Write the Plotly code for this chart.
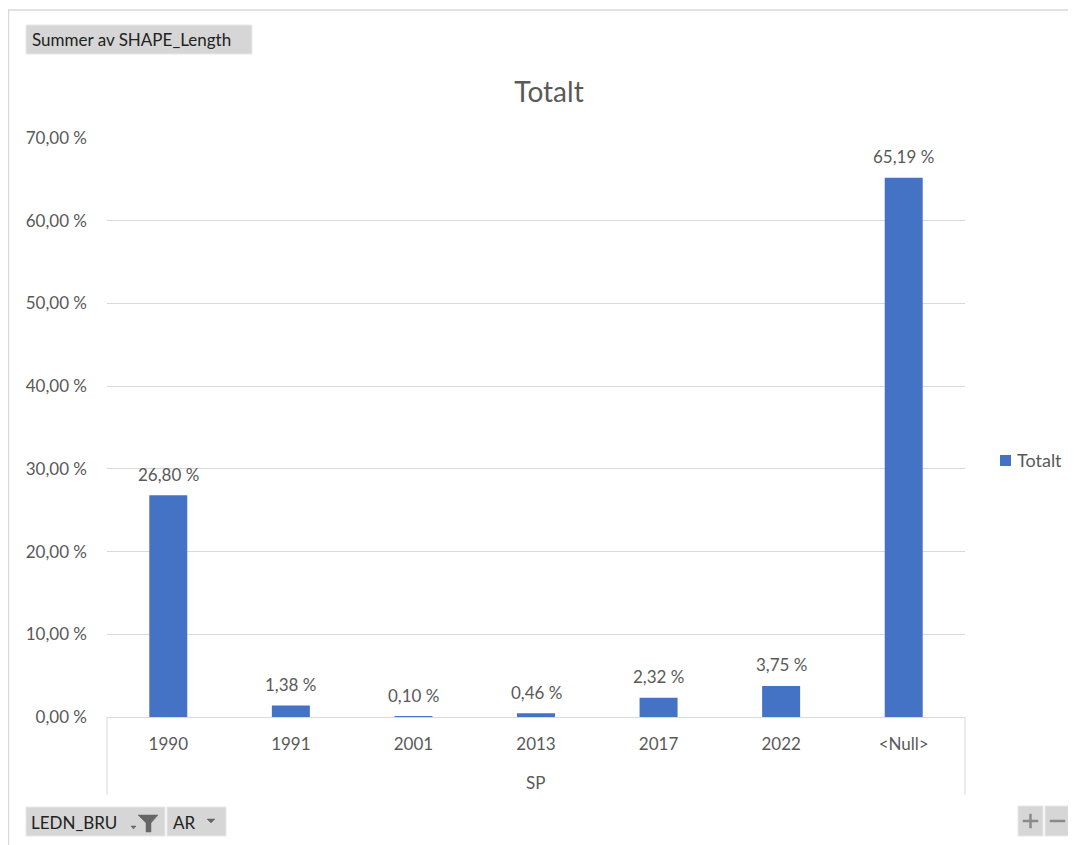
import plotly.graph_objects as go

categories = ["1990", "1991", "2001", "2013", "2017", "2022", "<Null>"]
values = [26.80, 1.38, 0.10, 0.46, 2.32, 3.75, 65.19]
y_ticks = [0, 10, 20, 30, 40, 50, 60, 70]
series_name = "Totalt"
chart_title = "Totalt"
axis_title = "SP"

# page is rendered with an 8px body margin
OFF = 8
W, H = 1076 - OFF, 845 - OFF
L, R, T, B = 107, 965, 138, 717  # page coordinates of plot area
FONT = "Lato, Open Sans, sans-serif"
GREY = "#595959"
BAR = "#4472C4"


def fmt(v):
    return f"{v:.2f}".replace(".", ",") + " %"


def px(x):
    return (x - L) / (R - L)


def py(y):
    return (B - y) / (B - T)


fig = go.Figure()
fig.add_trace(go.Bar(
    x=categories, y=values, name=series_name,
    marker=dict(color=BAR, line=dict(width=0)),
    cliponaxis=False, showlegend=False,
))

shapes = []
# outer frame
shapes.append(dict(type="line", xref="paper", yref="paper", x0=px(8), x1=px(1076), y0=py(10), y1=py(10),
                   line=dict(color="#d9d9d9", width=1.5)))
shapes.append(dict(type="line", xref="paper", yref="paper", x0=px(8.5), x1=px(8.5), y0=py(10), y1=py(845),
                   line=dict(color="#d9d9d9", width=1.5)))
# category axis boundary lines
for xx in (L, R):
    shapes.append(dict(type="line", xref="paper", yref="paper", x0=px(xx), x1=px(xx), y0=py(717), y1=py(795),
                       line=dict(color="#d9d9d9", width=1)))


def button(x0, x1, y0, y1):
    shapes.append(dict(type="rect", xref="paper", yref="paper", x0=px(x0), x1=px(x1), y0=py(y1), y1=py(y0),
                       fillcolor="#d6d6d6", line=dict(color="#e8e8e8", width=1), layer="above"))


button(26, 252, 25, 54)
button(26, 165, 807, 836)
button(167, 226, 807, 836)
button(1018, 1043, 806, 836)
button(1045, 1070, 806, 836)


def path(points, color="#666666"):
    d = "M " + " L ".join(f"{px(x)},{py(y)}" for x, y in points) + " Z"
    shapes.append(dict(type="path", xref="paper", yref="paper", path=d, fillcolor=color,
                       line=dict(color=color, width=0.5), layer="above"))


# filter funnel
path([(138, 815), (158, 815), (151, 823), (151, 832), (146, 832), (146, 823)])
# small dropdown arrow next to funnel
path([(131, 826), (136, 826), (133.5, 829)])
# AR dropdown arrow
path([(207, 819), (215, 819), (211, 823)])
# plus sign
path([(1023, 820), (1038, 820), (1038, 822), (1023, 822)], "#8a8a8a")
path([(1029.5, 814), (1031.5, 814), (1031.5, 828), (1029.5, 828)], "#8a8a8a")
# minus sign
path([(1050, 820), (1065, 820), (1065, 822), (1050, 822)], "#8a8a8a")
# legend swatch
shapes.append(dict(type="rect", xref="paper", yref="paper", x0=px(1000), x1=px(1011), y0=py(466), y1=py(455),
                   fillcolor=BAR, line=dict(width=0)))

annotations = [
    dict(text="Summer av SHAPE_Length", xref="paper", yref="paper", x=px(30), y=py(40),
         xanchor="left", yanchor="middle", showarrow=False, font=dict(family=FONT, size=17, color="#222222")),
    dict(text="LEDN_BRU", xref="paper", yref="paper", x=px(29), y=py(822),
         xanchor="left", yanchor="middle", showarrow=False, font=dict(family=FONT, size=17, color="#222222")),
    dict(text="AR", xref="paper", yref="paper", x=px(171), y=py(822),
         xanchor="left", yanchor="middle", showarrow=False, font=dict(family=FONT, size=17, color="#222222")),
    dict(text=axis_title, xref="paper", yref="paper", x=px(535), y=py(782),
         xanchor="center", yanchor="middle", showarrow=False, font=dict(family=FONT, size=17, color=GREY)),
    dict(text=series_name, xref="paper", yref="paper", x=px(1015), y=py(460),
         xanchor="left", yanchor="middle", showarrow=False, font=dict(family=FONT, size=18, color=GREY)),
]
# data labels above bars (category index positions)
for i, v in enumerate(values):
    annotations.append(dict(text=fmt(v), x=i, y=v, xref="x", yref="y", xanchor="center", yanchor="middle",
                            yshift=21, showarrow=False, font=dict(family=FONT, size=17, color=GREY)))

fig.update_layout(
    width=W, height=H,
    margin=dict(l=L - OFF, r=1076 - R, t=T - OFF, b=845 - B, pad=0),
    paper_bgcolor="white", plot_bgcolor="white",
    title=dict(text=chart_title, x=px(549), xref="paper", xanchor="center", y=1 - (92 - OFF) / H,
               yanchor="middle", font=dict(family=FONT, size=28, color=GREY)),
    bargap=0.69,
    showlegend=False,
    font=dict(family=FONT, size=17, color=GREY),
    xaxis=dict(type="category", categoryorder="array", categoryarray=categories,
               range=[-0.5, len(categories) - 0.5],
               showgrid=False, showline=True, linecolor="#d9d9d9", linewidth=1, ticks="",
               tickfont=dict(family=FONT, size=17, color=GREY), ticklabelstandoff=12),
    yaxis=dict(range=[0, 70], tickvals=y_ticks, ticktext=[fmt(v) for v in y_ticks],
               showgrid=True, gridcolor="#d9d9d9", gridwidth=1, zeroline=False, showline=False,
               ticks="", ticklabelstandoff=19, tickfont=dict(family=FONT, size=17, color=GREY)),
    shapes=shapes, annotations=annotations,
)

fig.write_html("out.html")
